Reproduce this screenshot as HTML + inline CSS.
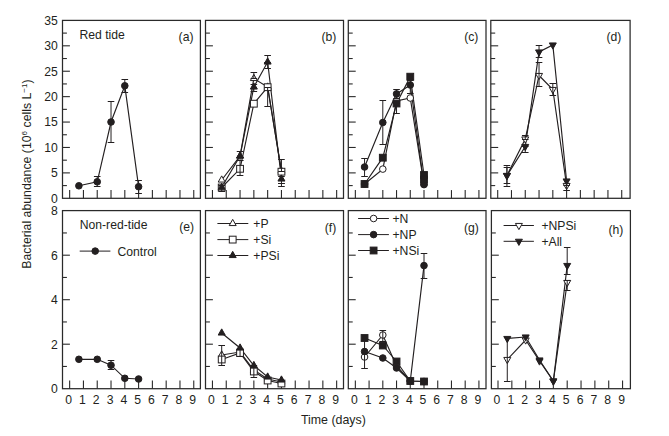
<!DOCTYPE html>
<html><head><meta charset="utf-8"><title>Bacterial abundance</title>
<style>html,body{margin:0;padding:0;background:#fff;}svg{display:block;}</style>
</head><body>
<svg width="669" height="436" viewBox="0 0 669 436">
<rect width="669" height="436" fill="#fff"/>
<g stroke="#2a2a2a" stroke-width="1.25" fill="none">
<rect x="62.5" y="20.4" width="137.9" height="177.9"/>
<rect x="205.5" y="20.4" width="138" height="177.9"/>
<rect x="348.3" y="20.4" width="137.7" height="177.9"/>
<rect x="490.8" y="20.4" width="139.3" height="177.9"/>
<rect x="62.5" y="210.6" width="137.9" height="178.1"/>
<rect x="205.5" y="210.6" width="138" height="178.1"/>
<rect x="348.3" y="210.6" width="137.7" height="178.1"/>
<rect x="491.4" y="210.6" width="139" height="178.1"/>
</g>
<g stroke="#2a2a2a" stroke-width="1.1">
<line x1="69.65" y1="198.3" x2="69.65" y2="190.1"/>
<line x1="83.44" y1="198.3" x2="83.44" y2="190.1"/>
<line x1="97.23" y1="198.3" x2="97.23" y2="190.1"/>
<line x1="111.02" y1="198.3" x2="111.02" y2="190.1"/>
<line x1="124.81" y1="198.3" x2="124.81" y2="190.1"/>
<line x1="138.6" y1="198.3" x2="138.6" y2="190.1"/>
<line x1="152.39" y1="198.3" x2="152.39" y2="190.1"/>
<line x1="166.18" y1="198.3" x2="166.18" y2="190.1"/>
<line x1="179.97" y1="198.3" x2="179.97" y2="190.1"/>
<line x1="193.76" y1="198.3" x2="193.76" y2="190.1"/>
<line x1="62.5" y1="185.59" x2="66.9" y2="185.59"/>
<line x1="62.5" y1="172.89" x2="69.9" y2="172.89"/>
<line x1="62.5" y1="160.18" x2="66.9" y2="160.18"/>
<line x1="62.5" y1="147.47" x2="69.9" y2="147.47"/>
<line x1="62.5" y1="134.76" x2="66.9" y2="134.76"/>
<line x1="62.5" y1="122.06" x2="69.9" y2="122.06"/>
<line x1="62.5" y1="109.35" x2="66.9" y2="109.35"/>
<line x1="62.5" y1="96.64" x2="69.9" y2="96.64"/>
<line x1="62.5" y1="83.93" x2="66.9" y2="83.93"/>
<line x1="62.5" y1="71.23" x2="69.9" y2="71.23"/>
<line x1="62.5" y1="58.52" x2="66.9" y2="58.52"/>
<line x1="62.5" y1="45.81" x2="69.9" y2="45.81"/>
<line x1="62.5" y1="33.1" x2="66.9" y2="33.1"/>
<line x1="212.45" y1="198.3" x2="212.45" y2="190.1"/>
<line x1="226.25" y1="198.3" x2="226.25" y2="190.1"/>
<line x1="240.05" y1="198.3" x2="240.05" y2="190.1"/>
<line x1="253.85" y1="198.3" x2="253.85" y2="190.1"/>
<line x1="267.65" y1="198.3" x2="267.65" y2="190.1"/>
<line x1="281.45" y1="198.3" x2="281.45" y2="190.1"/>
<line x1="295.25" y1="198.3" x2="295.25" y2="190.1"/>
<line x1="309.05" y1="198.3" x2="309.05" y2="190.1"/>
<line x1="322.85" y1="198.3" x2="322.85" y2="190.1"/>
<line x1="336.65" y1="198.3" x2="336.65" y2="190.1"/>
<line x1="205.5" y1="185.59" x2="209.9" y2="185.59"/>
<line x1="205.5" y1="172.89" x2="212.9" y2="172.89"/>
<line x1="205.5" y1="160.18" x2="209.9" y2="160.18"/>
<line x1="205.5" y1="147.47" x2="212.9" y2="147.47"/>
<line x1="205.5" y1="134.76" x2="209.9" y2="134.76"/>
<line x1="205.5" y1="122.06" x2="212.9" y2="122.06"/>
<line x1="205.5" y1="109.35" x2="209.9" y2="109.35"/>
<line x1="205.5" y1="96.64" x2="212.9" y2="96.64"/>
<line x1="205.5" y1="83.93" x2="209.9" y2="83.93"/>
<line x1="205.5" y1="71.23" x2="212.9" y2="71.23"/>
<line x1="205.5" y1="58.52" x2="209.9" y2="58.52"/>
<line x1="205.5" y1="45.81" x2="212.9" y2="45.81"/>
<line x1="205.5" y1="33.1" x2="209.9" y2="33.1"/>
<line x1="355.35" y1="198.3" x2="355.35" y2="190.1"/>
<line x1="369.08" y1="198.3" x2="369.08" y2="190.1"/>
<line x1="382.81" y1="198.3" x2="382.81" y2="190.1"/>
<line x1="396.54" y1="198.3" x2="396.54" y2="190.1"/>
<line x1="410.27" y1="198.3" x2="410.27" y2="190.1"/>
<line x1="424" y1="198.3" x2="424" y2="190.1"/>
<line x1="437.73" y1="198.3" x2="437.73" y2="190.1"/>
<line x1="451.46" y1="198.3" x2="451.46" y2="190.1"/>
<line x1="465.19" y1="198.3" x2="465.19" y2="190.1"/>
<line x1="478.92" y1="198.3" x2="478.92" y2="190.1"/>
<line x1="348.3" y1="185.59" x2="352.7" y2="185.59"/>
<line x1="348.3" y1="172.89" x2="355.7" y2="172.89"/>
<line x1="348.3" y1="160.18" x2="352.7" y2="160.18"/>
<line x1="348.3" y1="147.47" x2="355.7" y2="147.47"/>
<line x1="348.3" y1="134.76" x2="352.7" y2="134.76"/>
<line x1="348.3" y1="122.06" x2="355.7" y2="122.06"/>
<line x1="348.3" y1="109.35" x2="352.7" y2="109.35"/>
<line x1="348.3" y1="96.64" x2="355.7" y2="96.64"/>
<line x1="348.3" y1="83.93" x2="352.7" y2="83.93"/>
<line x1="348.3" y1="71.23" x2="355.7" y2="71.23"/>
<line x1="348.3" y1="58.52" x2="352.7" y2="58.52"/>
<line x1="348.3" y1="45.81" x2="355.7" y2="45.81"/>
<line x1="348.3" y1="33.1" x2="352.7" y2="33.1"/>
<line x1="497.7" y1="198.3" x2="497.7" y2="190.1"/>
<line x1="511.48" y1="198.3" x2="511.48" y2="190.1"/>
<line x1="525.26" y1="198.3" x2="525.26" y2="190.1"/>
<line x1="539.04" y1="198.3" x2="539.04" y2="190.1"/>
<line x1="552.82" y1="198.3" x2="552.82" y2="190.1"/>
<line x1="566.6" y1="198.3" x2="566.6" y2="190.1"/>
<line x1="580.38" y1="198.3" x2="580.38" y2="190.1"/>
<line x1="594.16" y1="198.3" x2="594.16" y2="190.1"/>
<line x1="607.94" y1="198.3" x2="607.94" y2="190.1"/>
<line x1="621.72" y1="198.3" x2="621.72" y2="190.1"/>
<line x1="490.8" y1="185.59" x2="495.2" y2="185.59"/>
<line x1="490.8" y1="172.89" x2="498.2" y2="172.89"/>
<line x1="490.8" y1="160.18" x2="495.2" y2="160.18"/>
<line x1="490.8" y1="147.47" x2="498.2" y2="147.47"/>
<line x1="490.8" y1="134.76" x2="495.2" y2="134.76"/>
<line x1="490.8" y1="122.06" x2="498.2" y2="122.06"/>
<line x1="490.8" y1="109.35" x2="495.2" y2="109.35"/>
<line x1="490.8" y1="96.64" x2="498.2" y2="96.64"/>
<line x1="490.8" y1="83.93" x2="495.2" y2="83.93"/>
<line x1="490.8" y1="71.23" x2="498.2" y2="71.23"/>
<line x1="490.8" y1="58.52" x2="495.2" y2="58.52"/>
<line x1="490.8" y1="45.81" x2="498.2" y2="45.81"/>
<line x1="490.8" y1="33.1" x2="495.2" y2="33.1"/>
<line x1="69.65" y1="388.7" x2="69.65" y2="380.5"/>
<line x1="83.44" y1="388.7" x2="83.44" y2="380.5"/>
<line x1="97.23" y1="388.7" x2="97.23" y2="380.5"/>
<line x1="111.02" y1="388.7" x2="111.02" y2="380.5"/>
<line x1="124.81" y1="388.7" x2="124.81" y2="380.5"/>
<line x1="138.6" y1="388.7" x2="138.6" y2="380.5"/>
<line x1="152.39" y1="388.7" x2="152.39" y2="380.5"/>
<line x1="166.18" y1="388.7" x2="166.18" y2="380.5"/>
<line x1="179.97" y1="388.7" x2="179.97" y2="380.5"/>
<line x1="193.76" y1="388.7" x2="193.76" y2="380.5"/>
<line x1="62.5" y1="366.45" x2="66.9" y2="366.45"/>
<line x1="62.5" y1="344.2" x2="69.9" y2="344.2"/>
<line x1="62.5" y1="321.95" x2="66.9" y2="321.95"/>
<line x1="62.5" y1="299.7" x2="69.9" y2="299.7"/>
<line x1="62.5" y1="277.45" x2="66.9" y2="277.45"/>
<line x1="62.5" y1="255.2" x2="69.9" y2="255.2"/>
<line x1="62.5" y1="232.95" x2="66.9" y2="232.95"/>
<line x1="212.45" y1="388.7" x2="212.45" y2="380.5"/>
<line x1="226.25" y1="388.7" x2="226.25" y2="380.5"/>
<line x1="240.05" y1="388.7" x2="240.05" y2="380.5"/>
<line x1="253.85" y1="388.7" x2="253.85" y2="380.5"/>
<line x1="267.65" y1="388.7" x2="267.65" y2="380.5"/>
<line x1="281.45" y1="388.7" x2="281.45" y2="380.5"/>
<line x1="295.25" y1="388.7" x2="295.25" y2="380.5"/>
<line x1="309.05" y1="388.7" x2="309.05" y2="380.5"/>
<line x1="322.85" y1="388.7" x2="322.85" y2="380.5"/>
<line x1="336.65" y1="388.7" x2="336.65" y2="380.5"/>
<line x1="205.5" y1="366.45" x2="209.9" y2="366.45"/>
<line x1="205.5" y1="344.2" x2="212.9" y2="344.2"/>
<line x1="205.5" y1="321.95" x2="209.9" y2="321.95"/>
<line x1="205.5" y1="299.7" x2="212.9" y2="299.7"/>
<line x1="205.5" y1="277.45" x2="209.9" y2="277.45"/>
<line x1="205.5" y1="255.2" x2="212.9" y2="255.2"/>
<line x1="205.5" y1="232.95" x2="209.9" y2="232.95"/>
<line x1="355.35" y1="388.7" x2="355.35" y2="380.5"/>
<line x1="369.08" y1="388.7" x2="369.08" y2="380.5"/>
<line x1="382.81" y1="388.7" x2="382.81" y2="380.5"/>
<line x1="396.54" y1="388.7" x2="396.54" y2="380.5"/>
<line x1="410.27" y1="388.7" x2="410.27" y2="380.5"/>
<line x1="424" y1="388.7" x2="424" y2="380.5"/>
<line x1="437.73" y1="388.7" x2="437.73" y2="380.5"/>
<line x1="451.46" y1="388.7" x2="451.46" y2="380.5"/>
<line x1="465.19" y1="388.7" x2="465.19" y2="380.5"/>
<line x1="478.92" y1="388.7" x2="478.92" y2="380.5"/>
<line x1="348.3" y1="366.45" x2="352.7" y2="366.45"/>
<line x1="348.3" y1="344.2" x2="355.7" y2="344.2"/>
<line x1="348.3" y1="321.95" x2="352.7" y2="321.95"/>
<line x1="348.3" y1="299.7" x2="355.7" y2="299.7"/>
<line x1="348.3" y1="277.45" x2="352.7" y2="277.45"/>
<line x1="348.3" y1="255.2" x2="355.7" y2="255.2"/>
<line x1="348.3" y1="232.95" x2="352.7" y2="232.95"/>
<line x1="498" y1="388.7" x2="498" y2="380.5"/>
<line x1="511.84" y1="388.7" x2="511.84" y2="380.5"/>
<line x1="525.68" y1="388.7" x2="525.68" y2="380.5"/>
<line x1="539.52" y1="388.7" x2="539.52" y2="380.5"/>
<line x1="553.36" y1="388.7" x2="553.36" y2="380.5"/>
<line x1="567.2" y1="388.7" x2="567.2" y2="380.5"/>
<line x1="581.04" y1="388.7" x2="581.04" y2="380.5"/>
<line x1="594.88" y1="388.7" x2="594.88" y2="380.5"/>
<line x1="608.72" y1="388.7" x2="608.72" y2="380.5"/>
<line x1="622.56" y1="388.7" x2="622.56" y2="380.5"/>
<line x1="491.4" y1="366.45" x2="495.8" y2="366.45"/>
<line x1="491.4" y1="344.2" x2="498.8" y2="344.2"/>
<line x1="491.4" y1="321.95" x2="495.8" y2="321.95"/>
<line x1="491.4" y1="299.7" x2="498.8" y2="299.7"/>
<line x1="491.4" y1="277.45" x2="495.8" y2="277.45"/>
<line x1="491.4" y1="255.2" x2="498.8" y2="255.2"/>
<line x1="491.4" y1="232.95" x2="495.8" y2="232.95"/>
</g>
<g fill="#231f20" font-family='"Liberation Sans", Arial, sans-serif'>
<text x="57.8" y="202.7" text-anchor="end" font-size="12.2" >0</text>
<text x="57.8" y="177.29" text-anchor="end" font-size="12.2" >5</text>
<text x="57.8" y="151.87" text-anchor="end" font-size="12.2" >10</text>
<text x="57.8" y="126.46" text-anchor="end" font-size="12.2" >15</text>
<text x="57.8" y="101.04" text-anchor="end" font-size="12.2" >20</text>
<text x="57.8" y="75.63" text-anchor="end" font-size="12.2" >25</text>
<text x="57.8" y="50.21" text-anchor="end" font-size="12.2" >30</text>
<text x="57.8" y="24.8" text-anchor="end" font-size="12.2" >35</text>
<text x="57.8" y="393.1" text-anchor="end" font-size="12.2" >0</text>
<text x="57.8" y="348.6" text-anchor="end" font-size="12.2" >2</text>
<text x="57.8" y="304.1" text-anchor="end" font-size="12.2" >4</text>
<text x="57.8" y="259.6" text-anchor="end" font-size="12.2" >6</text>
<text x="57.8" y="215.1" text-anchor="end" font-size="12.2" >8</text>
<text x="68.65" y="403.8" text-anchor="middle" font-size="12.2" >0</text>
<text x="82.44" y="403.8" text-anchor="middle" font-size="12.2" >1</text>
<text x="96.23" y="403.8" text-anchor="middle" font-size="12.2" >2</text>
<text x="110.02" y="403.8" text-anchor="middle" font-size="12.2" >3</text>
<text x="123.81" y="403.8" text-anchor="middle" font-size="12.2" >4</text>
<text x="137.6" y="403.8" text-anchor="middle" font-size="12.2" >5</text>
<text x="151.39" y="403.8" text-anchor="middle" font-size="12.2" >6</text>
<text x="165.18" y="403.8" text-anchor="middle" font-size="12.2" >7</text>
<text x="178.97" y="403.8" text-anchor="middle" font-size="12.2" >8</text>
<text x="192.76" y="403.8" text-anchor="middle" font-size="12.2" >9</text>
<text x="211.45" y="403.8" text-anchor="middle" font-size="12.2" >0</text>
<text x="225.25" y="403.8" text-anchor="middle" font-size="12.2" >1</text>
<text x="239.05" y="403.8" text-anchor="middle" font-size="12.2" >2</text>
<text x="252.85" y="403.8" text-anchor="middle" font-size="12.2" >3</text>
<text x="266.65" y="403.8" text-anchor="middle" font-size="12.2" >4</text>
<text x="280.45" y="403.8" text-anchor="middle" font-size="12.2" >5</text>
<text x="294.25" y="403.8" text-anchor="middle" font-size="12.2" >6</text>
<text x="308.05" y="403.8" text-anchor="middle" font-size="12.2" >7</text>
<text x="321.85" y="403.8" text-anchor="middle" font-size="12.2" >8</text>
<text x="335.65" y="403.8" text-anchor="middle" font-size="12.2" >9</text>
<text x="354.35" y="403.8" text-anchor="middle" font-size="12.2" >0</text>
<text x="368.08" y="403.8" text-anchor="middle" font-size="12.2" >1</text>
<text x="381.81" y="403.8" text-anchor="middle" font-size="12.2" >2</text>
<text x="395.54" y="403.8" text-anchor="middle" font-size="12.2" >3</text>
<text x="409.27" y="403.8" text-anchor="middle" font-size="12.2" >4</text>
<text x="423" y="403.8" text-anchor="middle" font-size="12.2" >5</text>
<text x="436.73" y="403.8" text-anchor="middle" font-size="12.2" >6</text>
<text x="450.46" y="403.8" text-anchor="middle" font-size="12.2" >7</text>
<text x="464.19" y="403.8" text-anchor="middle" font-size="12.2" >8</text>
<text x="477.92" y="403.8" text-anchor="middle" font-size="12.2" >9</text>
<text x="497" y="403.8" text-anchor="middle" font-size="12.2" >0</text>
<text x="510.84" y="403.8" text-anchor="middle" font-size="12.2" >1</text>
<text x="524.68" y="403.8" text-anchor="middle" font-size="12.2" >2</text>
<text x="538.52" y="403.8" text-anchor="middle" font-size="12.2" >3</text>
<text x="552.36" y="403.8" text-anchor="middle" font-size="12.2" >4</text>
<text x="566.2" y="403.8" text-anchor="middle" font-size="12.2" >5</text>
<text x="580.04" y="403.8" text-anchor="middle" font-size="12.2" >6</text>
<text x="593.88" y="403.8" text-anchor="middle" font-size="12.2" >7</text>
<text x="607.72" y="403.8" text-anchor="middle" font-size="12.2" >8</text>
<text x="621.56" y="403.8" text-anchor="middle" font-size="12.2" >9</text>
<text x="79.4" y="38.9" text-anchor="start" font-size="12.2" >Red tide</text>
<text x="79.7" y="228.9" text-anchor="start" font-size="12.2" >Non-red-tide</text>
<text x="193.5" y="40.7" text-anchor="end" font-size="12.2" >(a)</text>
<text x="336.3" y="40.7" text-anchor="end" font-size="12.2" >(b)</text>
<text x="478.4" y="40.7" text-anchor="end" font-size="12.2" >(c)</text>
<text x="621.4" y="40.7" text-anchor="end" font-size="12.2" >(d)</text>
<text x="194.2" y="231" text-anchor="end" font-size="12.2" >(e)</text>
<text x="336.3" y="232.1" text-anchor="end" font-size="12.2" >(f)</text>
<text x="478.8" y="232" text-anchor="end" font-size="12.2" >(g)</text>
<text x="623.4" y="233.9" text-anchor="end" font-size="12.2" >(h)</text>
<text x="300.9" y="423.8" text-anchor="start" font-size="12.4" >Time (days)</text>
<text transform="translate(31.4,268.7) rotate(-90)" font-size="12.3">Bacterial abundance (10<tspan dy="-4" font-size="8">6</tspan><tspan dy="4"> cells L</tspan><tspan dy="-4" font-size="8">&#8722;1</tspan><tspan dy="4">)</tspan></text>
</g>
<polyline points="78.89,185.8 97.23,181.8 111.02,122 124.81,85.8 138.6,186.7" fill="none" stroke="#231f20" stroke-width="1.15"/>
<circle cx="78.89" cy="185.8" r="3.3" fill="#231f20" stroke="#231f20" stroke-width="1.0"/>
<circle cx="97.23" cy="181.8" r="3.3" fill="#231f20" stroke="#231f20" stroke-width="1.0"/>
<circle cx="111.02" cy="122" r="3.3" fill="#231f20" stroke="#231f20" stroke-width="1.0"/>
<circle cx="124.81" cy="85.8" r="3.3" fill="#231f20" stroke="#231f20" stroke-width="1.0"/>
<circle cx="138.6" cy="186.7" r="3.3" fill="#231f20" stroke="#231f20" stroke-width="1.0"/>
<g stroke="#231f20" stroke-width="1">
<line x1="97.23" y1="176.5" x2="97.23" y2="186.5"/><line x1="93.93" y1="176.5" x2="100.53" y2="176.5"/><line x1="93.93" y1="186.5" x2="100.53" y2="186.5"/>
<line x1="111.02" y1="101.5" x2="111.02" y2="142.5"/><line x1="107.72" y1="101.5" x2="114.32" y2="101.5"/><line x1="107.72" y1="142.5" x2="114.32" y2="142.5"/>
<line x1="124.81" y1="79.5" x2="124.81" y2="92.5"/><line x1="121.51" y1="79.5" x2="128.11" y2="79.5"/><line x1="121.51" y1="92.5" x2="128.11" y2="92.5"/>
<line x1="138.6" y1="180.5" x2="138.6" y2="193.5"/><line x1="135.3" y1="180.5" x2="141.9" y2="180.5"/><line x1="135.3" y1="193.5" x2="141.9" y2="193.5"/>
</g>
<polyline points="221.7,180 240.05,156 253.85,78.5 267.65,87 281.45,171" fill="none" stroke="#231f20" stroke-width="1.15"/>
<polyline points="221.7,187.5 240.05,168.8 253.85,103.7 267.65,87.2 281.45,171.7" fill="none" stroke="#231f20" stroke-width="1.15"/>
<polyline points="221.7,187.3 240.05,156 253.85,87 267.65,62 281.45,179" fill="none" stroke="#231f20" stroke-width="1.15"/>
<polygon points="221.7,175.87 225.2,182.07 218.2,182.07" fill="white" stroke="#231f20" stroke-width="1.0" stroke-linejoin="miter"/>
<polygon points="240.05,151.87 243.55,158.07 236.55,158.07" fill="white" stroke="#231f20" stroke-width="1.0" stroke-linejoin="miter"/>
<polygon points="253.85,74.37 257.35,80.57 250.35,80.57" fill="white" stroke="#231f20" stroke-width="1.0" stroke-linejoin="miter"/>
<polygon points="267.65,82.87 271.15,89.07 264.15,89.07" fill="white" stroke="#231f20" stroke-width="1.0" stroke-linejoin="miter"/>
<polygon points="281.45,166.87 284.95,173.07 277.95,173.07" fill="white" stroke="#231f20" stroke-width="1.0" stroke-linejoin="miter"/>
<rect x="218.3" y="184.1" width="6.8" height="6.8" fill="white" stroke="#231f20" stroke-width="1.0"/>
<rect x="236.65" y="165.4" width="6.8" height="6.8" fill="white" stroke="#231f20" stroke-width="1.0"/>
<rect x="250.45" y="100.3" width="6.8" height="6.8" fill="white" stroke="#231f20" stroke-width="1.0"/>
<rect x="264.25" y="83.8" width="6.8" height="6.8" fill="white" stroke="#231f20" stroke-width="1.0"/>
<rect x="278.05" y="168.3" width="6.8" height="6.8" fill="white" stroke="#231f20" stroke-width="1.0"/>
<polygon points="221.7,183.17 225.2,189.37 218.2,189.37" fill="#231f20" stroke="#231f20" stroke-width="1.0" stroke-linejoin="miter"/>
<polygon points="240.05,151.87 243.55,158.07 236.55,158.07" fill="#231f20" stroke="#231f20" stroke-width="1.0" stroke-linejoin="miter"/>
<polygon points="253.85,82.87 257.35,89.07 250.35,89.07" fill="#231f20" stroke="#231f20" stroke-width="1.0" stroke-linejoin="miter"/>
<polygon points="267.65,57.87 271.15,64.07 264.15,64.07" fill="#231f20" stroke="#231f20" stroke-width="1.0" stroke-linejoin="miter"/>
<polygon points="281.45,174.87 284.95,181.07 277.95,181.07" fill="#231f20" stroke="#231f20" stroke-width="1.0" stroke-linejoin="miter"/>
<g stroke="#231f20" stroke-width="1">
<line x1="221.7" y1="185.5" x2="221.7" y2="191.5"/><line x1="218.4" y1="185.5" x2="225" y2="185.5"/><line x1="218.4" y1="191.5" x2="225" y2="191.5"/>
<line x1="240.05" y1="151.5" x2="240.05" y2="160.5"/><line x1="236.75" y1="151.5" x2="243.35" y2="151.5"/><line x1="236.75" y1="160.5" x2="243.35" y2="160.5"/>
<line x1="240.05" y1="160.5" x2="240.05" y2="175.5"/><line x1="236.75" y1="160.5" x2="243.35" y2="160.5"/><line x1="236.75" y1="175.5" x2="243.35" y2="175.5"/>
<line x1="253.85" y1="72.5" x2="253.85" y2="78.5"/><line x1="250.55" y1="72.5" x2="257.15" y2="72.5"/><line x1="250.55" y1="78.5" x2="257.15" y2="78.5"/>
<line x1="253.85" y1="84.5" x2="253.85" y2="91.5"/><line x1="250.55" y1="84.5" x2="257.15" y2="84.5"/><line x1="250.55" y1="91.5" x2="257.15" y2="91.5"/>
<line x1="267.65" y1="55.5" x2="267.65" y2="62.5"/><line x1="264.35" y1="55.5" x2="270.95" y2="55.5"/><line x1="264.35" y1="62.5" x2="270.95" y2="62.5"/>
<line x1="267.65" y1="62.5" x2="267.65" y2="68.5"/><line x1="264.35" y1="62.5" x2="270.95" y2="62.5"/><line x1="264.35" y1="68.5" x2="270.95" y2="68.5"/>
<line x1="267.65" y1="87.5" x2="267.65" y2="106.5"/><line x1="264.35" y1="87.5" x2="270.95" y2="87.5"/><line x1="264.35" y1="106.5" x2="270.95" y2="106.5"/>
<line x1="281.45" y1="159.5" x2="281.45" y2="171.5"/><line x1="278.15" y1="159.5" x2="284.75" y2="159.5"/><line x1="278.15" y1="171.5" x2="284.75" y2="171.5"/>
<line x1="281.45" y1="176.5" x2="281.45" y2="183.5"/><line x1="278.15" y1="176.5" x2="284.75" y2="176.5"/><line x1="278.15" y1="183.5" x2="284.75" y2="183.5"/>
<line x1="281.45" y1="183.5" x2="281.45" y2="186.5"/><line x1="278.15" y1="183.5" x2="284.75" y2="183.5"/><line x1="278.15" y1="186.5" x2="284.75" y2="186.5"/>
</g>
<polyline points="364.55,184 382.81,169.1 396.54,101 410.27,98 424,184.5" fill="none" stroke="#231f20" stroke-width="1.15"/>
<polyline points="364.55,167 382.81,122.5 396.54,93.9 410.27,85 424,184.5" fill="none" stroke="#231f20" stroke-width="1.15"/>
<polyline points="364.55,184 382.81,157.7 396.54,103.5 410.27,76.7 424,175" fill="none" stroke="#231f20" stroke-width="1.15"/>
<circle cx="364.55" cy="184" r="3.3" fill="white" stroke="#231f20" stroke-width="1.0"/>
<circle cx="382.81" cy="169.1" r="3.3" fill="white" stroke="#231f20" stroke-width="1.0"/>
<circle cx="396.54" cy="101" r="3.3" fill="white" stroke="#231f20" stroke-width="1.0"/>
<circle cx="410.27" cy="98" r="3.3" fill="white" stroke="#231f20" stroke-width="1.0"/>
<circle cx="424" cy="184.5" r="3.3" fill="white" stroke="#231f20" stroke-width="1.0"/>
<circle cx="364.55" cy="167" r="3.3" fill="#231f20" stroke="#231f20" stroke-width="1.0"/>
<circle cx="382.81" cy="122.5" r="3.3" fill="#231f20" stroke="#231f20" stroke-width="1.0"/>
<circle cx="396.54" cy="93.9" r="3.3" fill="#231f20" stroke="#231f20" stroke-width="1.0"/>
<circle cx="410.27" cy="85" r="3.3" fill="#231f20" stroke="#231f20" stroke-width="1.0"/>
<circle cx="424" cy="184.5" r="3.3" fill="#231f20" stroke="#231f20" stroke-width="1.0"/>
<rect x="361.15" y="180.6" width="6.8" height="6.8" fill="#231f20" stroke="#231f20" stroke-width="1.0"/>
<rect x="379.41" y="154.3" width="6.8" height="6.8" fill="#231f20" stroke="#231f20" stroke-width="1.0"/>
<rect x="393.14" y="100.1" width="6.8" height="6.8" fill="#231f20" stroke="#231f20" stroke-width="1.0"/>
<rect x="406.87" y="73.3" width="6.8" height="6.8" fill="#231f20" stroke="#231f20" stroke-width="1.0"/>
<rect x="420.6" y="171.6" width="6.8" height="6.8" fill="#231f20" stroke="#231f20" stroke-width="1.0"/>
<rect x="420.6" y="176.1" width="6.8" height="6.8" fill="#231f20" stroke="#231f20" stroke-width="1.0"/>
<g stroke="#231f20" stroke-width="1">
<line x1="364.55" y1="158.5" x2="364.55" y2="176.5"/><line x1="361.25" y1="158.5" x2="367.85" y2="158.5"/><line x1="361.25" y1="176.5" x2="367.85" y2="176.5"/>
<line x1="382.81" y1="100.5" x2="382.81" y2="144.5"/><line x1="379.51" y1="100.5" x2="386.11" y2="100.5"/><line x1="379.51" y1="144.5" x2="386.11" y2="144.5"/>
<line x1="396.54" y1="89.5" x2="396.54" y2="98.5"/><line x1="393.24" y1="89.5" x2="399.84" y2="89.5"/><line x1="393.24" y1="98.5" x2="399.84" y2="98.5"/>
<line x1="396.54" y1="103.5" x2="396.54" y2="113.5"/><line x1="393.24" y1="103.5" x2="399.84" y2="103.5"/><line x1="393.24" y1="113.5" x2="399.84" y2="113.5"/>
<line x1="410.27" y1="80.5" x2="410.27" y2="93.5"/><line x1="406.97" y1="80.5" x2="413.57" y2="80.5"/><line x1="406.97" y1="93.5" x2="413.57" y2="93.5"/>
</g>
<polyline points="506.93,175.5 525.26,139 539.04,75.5 552.82,89.5 566.6,185.5" fill="none" stroke="#231f20" stroke-width="1.15"/>
<polyline points="506.93,175.5 525.26,146.5 539.04,52 552.82,45 566.6,181" fill="none" stroke="#231f20" stroke-width="1.15"/>
<polygon points="506.93,179.63 510.43,173.43 503.43,173.43" fill="white" stroke="#231f20" stroke-width="1.0" stroke-linejoin="miter"/>
<polygon points="525.26,143.13 528.76,136.93 521.76,136.93" fill="white" stroke="#231f20" stroke-width="1.0" stroke-linejoin="miter"/>
<polygon points="539.04,79.63 542.54,73.43 535.54,73.43" fill="white" stroke="#231f20" stroke-width="1.0" stroke-linejoin="miter"/>
<polygon points="552.82,93.63 556.32,87.43 549.32,87.43" fill="white" stroke="#231f20" stroke-width="1.0" stroke-linejoin="miter"/>
<polygon points="566.6,189.63 570.1,183.43 563.1,183.43" fill="white" stroke="#231f20" stroke-width="1.0" stroke-linejoin="miter"/>
<polygon points="506.93,179.63 510.43,173.43 503.43,173.43" fill="#231f20" stroke="#231f20" stroke-width="1.0" stroke-linejoin="miter"/>
<polygon points="525.26,150.63 528.76,144.43 521.76,144.43" fill="#231f20" stroke="#231f20" stroke-width="1.0" stroke-linejoin="miter"/>
<polygon points="539.04,56.13 542.54,49.93 535.54,49.93" fill="#231f20" stroke="#231f20" stroke-width="1.0" stroke-linejoin="miter"/>
<polygon points="552.82,49.13 556.32,42.93 549.32,42.93" fill="#231f20" stroke="#231f20" stroke-width="1.0" stroke-linejoin="miter"/>
<polygon points="566.6,185.13 570.1,178.93 563.1,178.93" fill="#231f20" stroke="#231f20" stroke-width="1.0" stroke-linejoin="miter"/>
<g stroke="#231f20" stroke-width="1">
<line x1="506.93" y1="165.5" x2="506.93" y2="186.5"/><line x1="503.63" y1="165.5" x2="510.23" y2="165.5"/><line x1="503.63" y1="186.5" x2="510.23" y2="186.5"/>
<line x1="506.93" y1="167.5" x2="506.93" y2="183.5"/><line x1="503.63" y1="167.5" x2="510.23" y2="167.5"/><line x1="503.63" y1="183.5" x2="510.23" y2="183.5"/>
<line x1="525.26" y1="135.5" x2="525.26" y2="139.5"/><line x1="521.96" y1="135.5" x2="528.56" y2="135.5"/><line x1="521.96" y1="139.5" x2="528.56" y2="139.5"/>
<line x1="525.26" y1="146.5" x2="525.26" y2="152.5"/><line x1="521.96" y1="146.5" x2="528.56" y2="146.5"/><line x1="521.96" y1="152.5" x2="528.56" y2="152.5"/>
<line x1="539.04" y1="45.5" x2="539.04" y2="57.5"/><line x1="535.74" y1="45.5" x2="542.34" y2="45.5"/><line x1="535.74" y1="57.5" x2="542.34" y2="57.5"/>
<line x1="539.04" y1="62.5" x2="539.04" y2="86.5"/><line x1="535.74" y1="62.5" x2="542.34" y2="62.5"/><line x1="535.74" y1="86.5" x2="542.34" y2="86.5"/>
<line x1="552.82" y1="83.5" x2="552.82" y2="95.5"/><line x1="549.52" y1="83.5" x2="556.12" y2="83.5"/><line x1="549.52" y1="95.5" x2="556.12" y2="95.5"/>
<line x1="566.6" y1="185.5" x2="566.6" y2="190.5"/><line x1="563.3" y1="185.5" x2="569.9" y2="185.5"/><line x1="563.3" y1="190.5" x2="569.9" y2="190.5"/>
</g>
<polyline points="78.89,359.3 97.23,359.3 111.02,365.2 124.81,378.3 138.6,379" fill="none" stroke="#231f20" stroke-width="1.15"/>
<circle cx="78.89" cy="359.3" r="3.3" fill="#231f20" stroke="#231f20" stroke-width="1.0"/>
<circle cx="97.23" cy="359.3" r="3.3" fill="#231f20" stroke="#231f20" stroke-width="1.0"/>
<circle cx="111.02" cy="365.2" r="3.3" fill="#231f20" stroke="#231f20" stroke-width="1.0"/>
<circle cx="124.81" cy="378.3" r="3.3" fill="#231f20" stroke="#231f20" stroke-width="1.0"/>
<circle cx="138.6" cy="379" r="3.3" fill="#231f20" stroke="#231f20" stroke-width="1.0"/>
<g stroke="#231f20" stroke-width="1">
<line x1="111.02" y1="360.5" x2="111.02" y2="369.5"/><line x1="107.72" y1="360.5" x2="114.32" y2="360.5"/><line x1="107.72" y1="369.5" x2="114.32" y2="369.5"/>
</g>
<polyline points="221.7,355 240.05,352 253.85,370 267.65,379 281.45,382" fill="none" stroke="#231f20" stroke-width="1.15"/>
<polyline points="221.7,359.5 240.05,353 253.85,371.5 267.65,380.5 281.45,383.5" fill="none" stroke="#231f20" stroke-width="1.15"/>
<polyline points="221.7,333 240.05,348 253.85,365.5 267.65,377 281.45,380" fill="none" stroke="#231f20" stroke-width="1.15"/>
<polygon points="221.7,350.87 225.2,357.07 218.2,357.07" fill="white" stroke="#231f20" stroke-width="1.0" stroke-linejoin="miter"/>
<polygon points="240.05,347.87 243.55,354.07 236.55,354.07" fill="white" stroke="#231f20" stroke-width="1.0" stroke-linejoin="miter"/>
<polygon points="253.85,365.87 257.35,372.07 250.35,372.07" fill="white" stroke="#231f20" stroke-width="1.0" stroke-linejoin="miter"/>
<polygon points="267.65,374.87 271.15,381.07 264.15,381.07" fill="white" stroke="#231f20" stroke-width="1.0" stroke-linejoin="miter"/>
<polygon points="281.45,377.87 284.95,384.07 277.95,384.07" fill="white" stroke="#231f20" stroke-width="1.0" stroke-linejoin="miter"/>
<rect x="218.3" y="356.1" width="6.8" height="6.8" fill="white" stroke="#231f20" stroke-width="1.0"/>
<rect x="236.65" y="349.6" width="6.8" height="6.8" fill="white" stroke="#231f20" stroke-width="1.0"/>
<rect x="250.45" y="368.1" width="6.8" height="6.8" fill="white" stroke="#231f20" stroke-width="1.0"/>
<rect x="264.25" y="377.1" width="6.8" height="6.8" fill="white" stroke="#231f20" stroke-width="1.0"/>
<rect x="278.05" y="380.1" width="6.8" height="6.8" fill="white" stroke="#231f20" stroke-width="1.0"/>
<polygon points="221.7,328.87 225.2,335.07 218.2,335.07" fill="#231f20" stroke="#231f20" stroke-width="1.0" stroke-linejoin="miter"/>
<polygon points="240.05,343.87 243.55,350.07 236.55,350.07" fill="#231f20" stroke="#231f20" stroke-width="1.0" stroke-linejoin="miter"/>
<polygon points="253.85,361.37 257.35,367.57 250.35,367.57" fill="#231f20" stroke="#231f20" stroke-width="1.0" stroke-linejoin="miter"/>
<polygon points="267.65,372.87 271.15,379.07 264.15,379.07" fill="#231f20" stroke="#231f20" stroke-width="1.0" stroke-linejoin="miter"/>
<polygon points="281.45,375.87 284.95,382.07 277.95,382.07" fill="#231f20" stroke="#231f20" stroke-width="1.0" stroke-linejoin="miter"/>
<g stroke="#231f20" stroke-width="1">
<line x1="221.7" y1="345.5" x2="221.7" y2="365.5"/><line x1="218.4" y1="345.5" x2="225" y2="345.5"/><line x1="218.4" y1="365.5" x2="225" y2="365.5"/>
<line x1="240.05" y1="348.5" x2="240.05" y2="356.5"/><line x1="236.75" y1="348.5" x2="243.35" y2="348.5"/><line x1="236.75" y1="356.5" x2="243.35" y2="356.5"/>
<line x1="253.85" y1="365.5" x2="253.85" y2="377.5"/><line x1="250.55" y1="365.5" x2="257.15" y2="365.5"/><line x1="250.55" y1="377.5" x2="257.15" y2="377.5"/>
</g>
<polyline points="364.55,357 382.81,335 396.54,366 410.27,381 424,381.5" fill="none" stroke="#231f20" stroke-width="1.15"/>
<polyline points="364.55,351.5 382.81,358 396.54,368 410.27,381 424,265.6" fill="none" stroke="#231f20" stroke-width="1.15"/>
<polyline points="364.55,338 382.81,345.5 396.54,361.5 410.27,381 424,381.5" fill="none" stroke="#231f20" stroke-width="1.15"/>
<circle cx="364.55" cy="357" r="3.3" fill="white" stroke="#231f20" stroke-width="1.0"/>
<circle cx="382.81" cy="335" r="3.3" fill="white" stroke="#231f20" stroke-width="1.0"/>
<circle cx="396.54" cy="366" r="3.3" fill="white" stroke="#231f20" stroke-width="1.0"/>
<circle cx="410.27" cy="381" r="3.3" fill="white" stroke="#231f20" stroke-width="1.0"/>
<circle cx="424" cy="381.5" r="3.3" fill="white" stroke="#231f20" stroke-width="1.0"/>
<circle cx="364.55" cy="351.5" r="3.3" fill="#231f20" stroke="#231f20" stroke-width="1.0"/>
<circle cx="382.81" cy="358" r="3.3" fill="#231f20" stroke="#231f20" stroke-width="1.0"/>
<circle cx="396.54" cy="368" r="3.3" fill="#231f20" stroke="#231f20" stroke-width="1.0"/>
<circle cx="410.27" cy="381" r="3.3" fill="#231f20" stroke="#231f20" stroke-width="1.0"/>
<circle cx="424" cy="265.6" r="3.3" fill="#231f20" stroke="#231f20" stroke-width="1.0"/>
<rect x="361.15" y="334.6" width="6.8" height="6.8" fill="#231f20" stroke="#231f20" stroke-width="1.0"/>
<rect x="379.41" y="342.1" width="6.8" height="6.8" fill="#231f20" stroke="#231f20" stroke-width="1.0"/>
<rect x="393.14" y="358.1" width="6.8" height="6.8" fill="#231f20" stroke="#231f20" stroke-width="1.0"/>
<rect x="406.87" y="377.6" width="6.8" height="6.8" fill="#231f20" stroke="#231f20" stroke-width="1.0"/>
<rect x="420.6" y="378.1" width="6.8" height="6.8" fill="#231f20" stroke="#231f20" stroke-width="1.0"/>
<g stroke="#231f20" stroke-width="1">
<line x1="364.55" y1="340.5" x2="364.55" y2="368.5"/><line x1="361.25" y1="340.5" x2="367.85" y2="340.5"/><line x1="361.25" y1="368.5" x2="367.85" y2="368.5"/>
<line x1="382.81" y1="330.5" x2="382.81" y2="341.5"/><line x1="379.51" y1="330.5" x2="386.11" y2="330.5"/><line x1="379.51" y1="341.5" x2="386.11" y2="341.5"/>
<line x1="424" y1="253.5" x2="424" y2="278.5"/><line x1="420.7" y1="253.5" x2="427.3" y2="253.5"/><line x1="420.7" y1="278.5" x2="427.3" y2="278.5"/>
</g>
<polyline points="507.27,359.5 525.68,340 539.52,361 553.36,381 567.2,282.5" fill="none" stroke="#231f20" stroke-width="1.15"/>
<polyline points="507.27,338.5 525.68,337 539.52,360 553.36,381 567.2,265.5" fill="none" stroke="#231f20" stroke-width="1.15"/>
<polygon points="507.27,363.63 510.77,357.43 503.77,357.43" fill="white" stroke="#231f20" stroke-width="1.0" stroke-linejoin="miter"/>
<polygon points="525.68,344.13 529.18,337.93 522.18,337.93" fill="white" stroke="#231f20" stroke-width="1.0" stroke-linejoin="miter"/>
<polygon points="539.52,365.13 543.02,358.93 536.02,358.93" fill="white" stroke="#231f20" stroke-width="1.0" stroke-linejoin="miter"/>
<polygon points="553.36,385.13 556.86,378.93 549.86,378.93" fill="white" stroke="#231f20" stroke-width="1.0" stroke-linejoin="miter"/>
<polygon points="567.2,286.63 570.7,280.43 563.7,280.43" fill="white" stroke="#231f20" stroke-width="1.0" stroke-linejoin="miter"/>
<polygon points="507.27,342.63 510.77,336.43 503.77,336.43" fill="#231f20" stroke="#231f20" stroke-width="1.0" stroke-linejoin="miter"/>
<polygon points="525.68,341.13 529.18,334.93 522.18,334.93" fill="#231f20" stroke="#231f20" stroke-width="1.0" stroke-linejoin="miter"/>
<polygon points="539.52,364.13 543.02,357.93 536.02,357.93" fill="#231f20" stroke="#231f20" stroke-width="1.0" stroke-linejoin="miter"/>
<polygon points="553.36,385.13 556.86,378.93 549.86,378.93" fill="#231f20" stroke="#231f20" stroke-width="1.0" stroke-linejoin="miter"/>
<polygon points="567.2,269.63 570.7,263.43 563.7,263.43" fill="#231f20" stroke="#231f20" stroke-width="1.0" stroke-linejoin="miter"/>
<g stroke="#231f20" stroke-width="1">
<line x1="507.27" y1="337.5" x2="507.27" y2="381.5"/><line x1="503.97" y1="337.5" x2="510.57" y2="337.5"/><line x1="503.97" y1="381.5" x2="510.57" y2="381.5"/>
<line x1="567.2" y1="247.5" x2="567.2" y2="274.5"/><line x1="563.9" y1="247.5" x2="570.5" y2="247.5"/><line x1="563.9" y1="274.5" x2="570.5" y2="274.5"/>
<line x1="567.2" y1="280.5" x2="567.2" y2="290.5"/><line x1="563.9" y1="280.5" x2="570.5" y2="280.5"/><line x1="563.9" y1="290.5" x2="570.5" y2="290.5"/>
</g>
<line x1="79.7" y1="251.1" x2="110.4" y2="251.1" stroke="#231f20" stroke-width="1"/>
<circle cx="95.2" cy="251.1" r="3.3" fill="#231f20" stroke="#231f20" stroke-width="1.0"/>
<text x="117.4" y="255.8" font-size="12.2" fill="#231f20" font-family='"Liberation Sans", Arial, sans-serif'>Control</text>
<line x1="217.4" y1="223.5" x2="248.3" y2="223.5" stroke="#231f20" stroke-width="1"/>
<polygon points="232.7,219.37 236.2,225.57 229.2,225.57" fill="white" stroke="#231f20" stroke-width="1.0" stroke-linejoin="miter"/>
<text x="253.3" y="228.2" font-size="12.2" fill="#231f20" font-family='"Liberation Sans", Arial, sans-serif'>+P</text>
<line x1="217.4" y1="239.6" x2="248.3" y2="239.6" stroke="#231f20" stroke-width="1"/>
<rect x="229.3" y="236.2" width="6.8" height="6.8" fill="white" stroke="#231f20" stroke-width="1.0"/>
<text x="253.3" y="244.3" font-size="12.2" fill="#231f20" font-family='"Liberation Sans", Arial, sans-serif'>+Si</text>
<line x1="217.4" y1="255.5" x2="248.3" y2="255.5" stroke="#231f20" stroke-width="1"/>
<polygon points="232.7,251.37 236.2,257.57 229.2,257.57" fill="#231f20" stroke="#231f20" stroke-width="1.0" stroke-linejoin="miter"/>
<text x="253.3" y="260.2" font-size="12.2" fill="#231f20" font-family='"Liberation Sans", Arial, sans-serif'>+PSi</text>
<line x1="358.1" y1="218.5" x2="388.9" y2="218.5" stroke="#231f20" stroke-width="1"/>
<circle cx="373.6" cy="218.5" r="3.3" fill="white" stroke="#231f20" stroke-width="1.0"/>
<text x="392.5" y="223.2" font-size="12.2" fill="#231f20" font-family='"Liberation Sans", Arial, sans-serif'>+N</text>
<line x1="358.1" y1="234.6" x2="388.9" y2="234.6" stroke="#231f20" stroke-width="1"/>
<circle cx="373.6" cy="234.6" r="3.3" fill="#231f20" stroke="#231f20" stroke-width="1.0"/>
<text x="392.5" y="239.3" font-size="12.2" fill="#231f20" font-family='"Liberation Sans", Arial, sans-serif'>+NP</text>
<line x1="358.1" y1="250.5" x2="388.9" y2="250.5" stroke="#231f20" stroke-width="1"/>
<rect x="370.2" y="247.1" width="6.8" height="6.8" fill="#231f20" stroke="#231f20" stroke-width="1.0"/>
<text x="392.5" y="255.2" font-size="12.2" fill="#231f20" font-family='"Liberation Sans", Arial, sans-serif'>+NSi</text>
<line x1="503.6" y1="225.5" x2="533.9" y2="225.5" stroke="#231f20" stroke-width="1"/>
<polygon points="518.9,229.63 522.4,223.43 515.4,223.43" fill="white" stroke="#231f20" stroke-width="1.0" stroke-linejoin="miter"/>
<text x="541.4" y="230.2" font-size="12.2" fill="#231f20" font-family='"Liberation Sans", Arial, sans-serif'>+NPSi</text>
<line x1="503.6" y1="241.3" x2="533.9" y2="241.3" stroke="#231f20" stroke-width="1"/>
<polygon points="518.9,245.43 522.4,239.23 515.4,239.23" fill="#231f20" stroke="#231f20" stroke-width="1.0" stroke-linejoin="miter"/>
<text x="541.4" y="246" font-size="12.2" fill="#231f20" font-family='"Liberation Sans", Arial, sans-serif'>+All</text>
</svg>
</body></html>
